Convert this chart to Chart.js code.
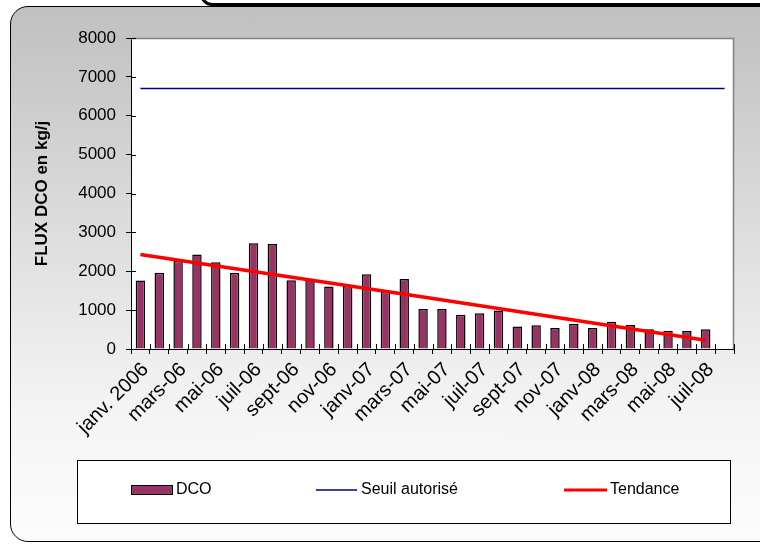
<!DOCTYPE html>
<html>
<head>
<meta charset="utf-8">
<script src="https://cdn.jsdelivr.net/npm/chart.js@4"></script>
<style>
  body { margin: 0; background: #fff; }
  #wrap { position: relative; width: 760px; height: 544px; overflow: hidden; }
  .frame {
    position: absolute; left: 10px; top: 6px; width: 770px; height: 536px;
    box-sizing: border-box; border: 1.5px solid #000; border-radius: 18px;
    background: linear-gradient(to bottom, #c0c0c0 0%, #c4c4c4 6%, #f4f4f4 75%, #fcfcfc 100%);
  }
  .cap {
    position: absolute; left: 200px; top: -40px; width: 620px; height: 46px;
    box-sizing: border-box; border: 3px solid #000; border-radius: 12px; background: #fff;
  }
  canvas { position: absolute; left: 0; top: 0; }
</style>
</head>
<body>
<div id="wrap">
  <div class="frame"></div>
  <div class="cap"></div>
  <canvas id="chart" width="760" height="544"></canvas>
</div>
<script>
const months = ['janv. 2006', 'févr-06', 'mars-06', 'avr-06', 'mai-06', 'juin-06', 'juil-06', 'août-06',
  'sept-06', 'oct-06', 'nov-06', 'déc-06', 'janv-07', 'févr-07', 'mars-07', 'avr-07', 'mai-07', 'juin-07',
  'juil-07', 'août-07', 'sept-07', 'oct-07', 'nov-07', 'déc-07', 'janv-08', 'févr-08', 'mars-08', 'avr-08',
  'mai-08', 'juin-08', 'juil-08', 'août-08']

const dco = [1760, 1960, 2270, 2430, 2230, 1960, 2720, 2700, 1770, 1810, 1610, 1620, 1920, 1470, 1800, 1030,
  1030, 880, 920, 990, 580, 610, 540, 650, 540, 700, 620, 510, 470, 460, 510, null]

const seuil = [6700, 6700, 6700, 6700, 6700, 6700, 6700, 6700, 6700, 6700, 6700, 6700, 6700, 6700, 6700, 6700,
  6700, 6700, 6700, 6700, 6700, 6700, 6700, 6700, 6700, 6700, 6700, 6700, 6700, 6700, 6700, 6700]

const tendance = [2430, null, null, null, null, null, null, null, null, null, null, null, null, null, null, 1340,
  null, null, null, null, null, null, null, null, null, null, null, null, null, null, 225, null]

const yTicks = [0, 1000, 2000, 3000, 4000, 5000, 6000, 7000, 8000]

const FONT = "'Liberation Sans', Arial, sans-serif"

// plot area fill, grey frame, crossing ticks and the boxed legend
const decor = {
  id: 'decor',
  beforeDraw(chart) {
    const { ctx, chartArea: a } = chart
    ctx.save()
    ctx.fillStyle = '#fff'
    ctx.fillRect(a.left, a.top, a.right - a.left, a.bottom - a.top)
    ctx.restore()
  },
  afterDraw(chart) {
    const { ctx, chartArea: a } = chart
    const y = chart.scales.y
    ctx.save()
    ctx.strokeStyle = '#808080'
    ctx.lineWidth = 1.5
    ctx.beginPath()
    ctx.moveTo(a.left, a.top + 0.5)
    ctx.lineTo(a.right - 0.5, a.top + 0.5)
    ctx.lineTo(a.right - 0.5, a.bottom)
    ctx.stroke()

    ctx.strokeStyle = '#000'
    ctx.lineWidth = 1
    ctx.beginPath()
    yTicks.forEach(v => {
      const py = Math.round(y.getPixelForValue(v)) + 0.5
      ctx.moveTo(a.left, py)
      ctx.lineTo(a.left + 5, py)
    })
    const step = (a.right - a.left) / months.length
    for (let i = 0; i <= months.length; i++) {
      const px = Math.round(a.left + i * step) + 0.5
      ctx.moveTo(px, a.bottom)
      ctx.lineTo(px, a.bottom - 5)
    }
    ctx.stroke()

    // legend
    ctx.fillStyle = '#fff'
    ctx.fillRect(77, 460, 653, 63)
    ctx.strokeStyle = '#000'
    ctx.lineWidth = 1
    ctx.strokeRect(77.5, 460.5, 653, 63)

    const ly = 490
    ctx.fillStyle = '#993366'
    ctx.fillRect(131, ly - 4, 41, 8)
    ctx.strokeRect(131.5, ly - 4.5, 41, 9)

    ctx.strokeStyle = '#000080'
    ctx.lineWidth = 1.5
    ctx.beginPath()
    ctx.moveTo(316, ly); ctx.lineTo(357, ly)
    ctx.stroke()

    ctx.strokeStyle = '#ff0000'
    ctx.lineWidth = 3
    ctx.beginPath()
    ctx.moveTo(564, ly); ctx.lineTo(607, ly)
    ctx.stroke()

    ctx.fillStyle = '#000'
    ctx.font = '16px ' + FONT
    ctx.textBaseline = 'middle'
    ctx.fillText('DCO', 176, ly)
    ctx.fillText('Seuil autorisé', 361, ly)
    ctx.fillText('Tendance', 610, ly)
    ctx.restore()
  }
}

new Chart(document.getElementById('chart'), {
  type: 'bar',
  data: {
    labels: months,
    datasets: [
      {
        label: 'DCO',
        data: dco,
        backgroundColor: '#993366',
        borderColor: '#000',
        borderWidth: 1.5,
        barPercentage: 0.5,
        categoryPercentage: 1,
        order: 2
      },
      {
        type: 'line',
        label: 'Seuil autorisé',
        data: seuil,
        borderColor: '#000080',
        borderWidth: 1.5,
        pointRadius: 0,
        order: 1
      },
      {
        type: 'line',
        label: 'Tendance',
        data: tendance,
        borderColor: '#ff0000',
        borderWidth: 3.5,
        pointRadius: 0,
        spanGaps: true,
        order: 0
      }
    ]
  },
  options: {
    responsive: false,
    animation: false,
    layout: { padding: { left: 10, top: 38, right: 26, bottom: 0 } },
    plugins: {
      legend: { display: false },
      tooltip: { enabled: false }
    },
    scales: {
      x: {
        afterFit(scale) { scale.height = 195 },
        grid: { drawOnChartArea: false, color: '#000', tickLength: 5 },
        border: { color: '#000', width: 1 },
        ticks: {
          autoSkip: false,
          minRotation: 45,
          maxRotation: 45,
          padding: 4,
          labelOffset: 5,
          color: '#000',
          font: { family: FONT, size: 20 },
          callback: (v, i) => (i % 2 === 0 ? months[i] : '')
        }
      },
      y: {
        min: 0,
        max: 8000,
        afterFit(scale) { scale.width = 121 },
        afterBuildTicks(scale) { scale.ticks = yTicks.map(v => ({ value: v })) },
        grid: { drawOnChartArea: false, color: '#000', tickLength: 5 },
        border: { color: '#000', width: 1 },
        title: {
          display: true,
          text: 'FLUX DCO en kg/j',
          color: '#000',
          font: { family: FONT, size: 17, weight: 'bold' },
          padding: { top: 22, bottom: 0 }
        },
        ticks: {
          padding: 10,
          color: '#000',
          font: { family: FONT, size: 17 },
          callback: v => String(v)
        }
      }
    }
  },
  plugins: [decor]
})
</script>
</body>
</html>
